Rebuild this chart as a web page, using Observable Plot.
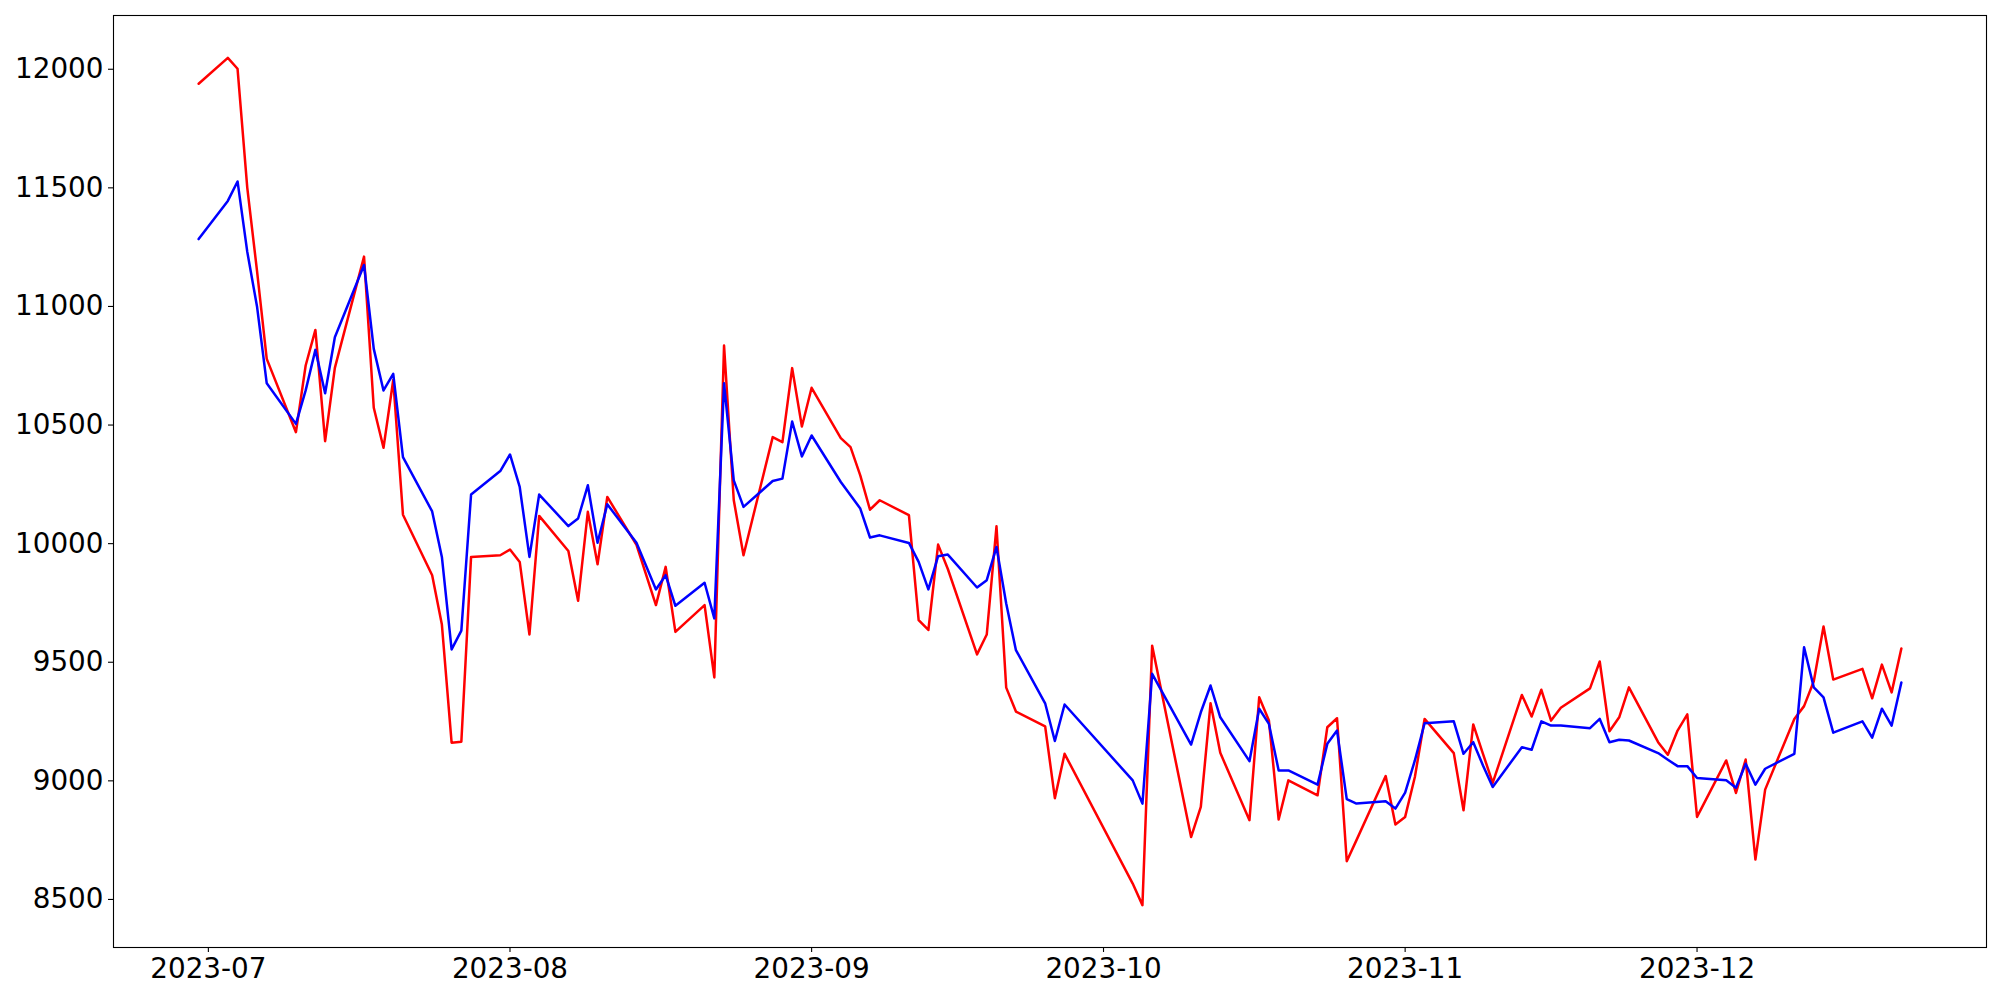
<!DOCTYPE html>
<html>
<head>
<meta charset="utf-8">
<script src="https://cdn.jsdelivr.net/npm/d3@7"></script>
<script src="https://cdn.jsdelivr.net/npm/@observablehq/plot@0.6"></script>
<style>
  html, body { margin: 0; padding: 0; background: #ffffff; }
  #chart svg { display: block; }
</style>
</head>
<body>
<div id="chart"></div>
<script>
// Trading days (dates)
const dates = [
  "2023-06-30",
  "2023-07-03","2023-07-04","2023-07-05","2023-07-06","2023-07-07",
  "2023-07-10","2023-07-11","2023-07-12","2023-07-13","2023-07-14",
  "2023-07-17","2023-07-18","2023-07-19","2023-07-20","2023-07-21",
  "2023-07-24","2023-07-25","2023-07-26","2023-07-27","2023-07-28",
  "2023-07-31","2023-08-01","2023-08-02","2023-08-03","2023-08-04",
  "2023-08-07","2023-08-08","2023-08-09","2023-08-10","2023-08-11",
  "2023-08-14","2023-08-16","2023-08-17","2023-08-18",
  "2023-08-21","2023-08-22","2023-08-23","2023-08-24","2023-08-25",
  "2023-08-28","2023-08-29","2023-08-30","2023-08-31","2023-09-01",
  "2023-09-04","2023-09-05","2023-09-06","2023-09-07","2023-09-08",
  "2023-09-11","2023-09-12","2023-09-13","2023-09-14","2023-09-15",
  "2023-09-18","2023-09-19","2023-09-20","2023-09-21","2023-09-22",
  "2023-09-25","2023-09-26","2023-09-27",
  "2023-10-04","2023-10-05","2023-10-06",
  "2023-10-10","2023-10-11","2023-10-12","2023-10-13",
  "2023-10-16","2023-10-17","2023-10-18","2023-10-19","2023-10-20",
  "2023-10-23","2023-10-24","2023-10-25","2023-10-26","2023-10-27",
  "2023-10-30","2023-10-31","2023-11-01","2023-11-02","2023-11-03",
  "2023-11-06","2023-11-07","2023-11-08","2023-11-09","2023-11-10",
  "2023-11-13","2023-11-14","2023-11-15","2023-11-16","2023-11-17",
  "2023-11-20","2023-11-21","2023-11-22","2023-11-23","2023-11-24",
  "2023-11-27","2023-11-28","2023-11-29","2023-11-30","2023-12-01",
  "2023-12-04","2023-12-05","2023-12-06","2023-12-07","2023-12-08",
  "2023-12-11","2023-12-12","2023-12-13","2023-12-14","2023-12-15",
  "2023-12-18","2023-12-19","2023-12-20","2023-12-21","2023-12-22"
];

// Red series
const redValues = [
  11939,
  12048,12002,11500,11150,10779,
  10470,10751,10901,10432,10741,
  11210,10573,10404,10690,10122,
  9867,9659,9161,9165,9944,
  9951,9975,9923,9617,10117,
  9969,9759,10134,9913,10197,
  9995,9741,9902,9628,
  9741,9436,10835,10183,9951,
  10449,10428,10740,10494,10657,
  10445,10407,10288,10143,10183,
  10120,9678,9636,9996,9893,
  9533,9617,10073,9393,9292,
  9230,8927,9114,
  8567,8476,9570,
  8763,8890,9327,9118,
  8834,9352,9254,8837,9002,
  8939,9226,9264,8661,8750,
  9020,8816,8848,9016,9261,
  9117,8876,9238,9114,8991,
  9362,9271,9384,9254,9308,
  9390,9503,9209,9268,9394,
  9163,9110,9212,9280,8848,
  9086,8949,9090,8668,8963,
  9261,9315,9420,9651,9427,
  9472,9348,9490,9373,9558
];

// Blue series
const blueValues = [
  11284,
  11445,11527,11230,11000,10676,
  10505,10646,10817,10634,10870,
  11175,10821,10646,10716,10365,
  10136,9944,9554,9633,10207,
  10306,10376,10239,9944,10207,
  10074,10106,10246,10004,10166,
  10004,9807,9867,9738,
  9835,9685,10676,10267,10155,
  10264,10274,10515,10368,10456,
  10260,10204,10148,10026,10035,
  10003,9923,9807,9947,9954,
  9815,9846,9986,9748,9551,
  9327,9168,9322,
  9002,8904,9451,
  9153,9289,9402,9268,
  9083,9304,9240,9044,9044,
  8984,9156,9212,8923,8904,
  8914,8883,8950,9086,9243,
  9251,9114,9163,9065,8974,
  9142,9131,9251,9233,9233,
  9222,9261,9163,9173,9170,
  9117,9089,9062,9062,9012,
  9002,8971,9072,8984,9051,
  9114,9563,9394,9352,9203,
  9251,9182,9304,9233,9415
];

// Tick labels
const xTickLabels = ["2023-07","2023-08","2023-09","2023-10","2023-11","2023-12"];
const yTickValues = [8500, 9000, 9500, 10000, 10500, 11000, 11500, 12000];

const parseDay = d3.utcParse("%Y-%m-%d");
const parseMonth = d3.utcParse("%Y-%m");
const dayDates = dates.map(parseDay);

const redData = dayDates.map((d, i) => ({date: d, value: redValues[i]}));
const blueData = dayDates.map((d, i) => ({date: d, value: blueValues[i]}));

// matplotlib-like 5% margins
const t0 = +d3.min(dayDates), t1 = +d3.max(dayDates);
const tPad = (t1 - t0) * 0.05;
const allVals = redValues.concat(blueValues);
const v0 = d3.min(allVals), v1 = d3.max(allVals);
const vPad = (v1 - v0) * 0.05;

const fontSize = 27.8;

const chart = Plot.plot({
  width: 2000,
  height: 1000,
  marginLeft: 113,
  marginRight: 14,
  marginTop: 15,
  marginBottom: 53,
  style: {
    fontFamily: "'DejaVu Sans', sans-serif",
    fontSize: fontSize + "px",
    color: "#000000",
    background: "#ffffff"
  },
  x: {type: "utc", domain: [new Date(t0 - tPad), new Date(t1 + tPad)]},
  y: {domain: [v0 - vPad, v1 + vPad]},
  marks: [
    Plot.line(redData, {x: "date", y: "value", stroke: "#ff0000", strokeWidth: 2.5}),
    Plot.line(blueData, {x: "date", y: "value", stroke: "#0000ff", strokeWidth: 2.5}),
    Plot.frame({stroke: "#000000", strokeWidth: 1.1}),
    Plot.axisX({
      ticks: xTickLabels.map(parseMonth),
      tickFormat: d3.utcFormat("%Y-%m"),
      tickSize: 5,
      tickPadding: 6,
      strokeWidth: 1.1,
      fontSize: fontSize,
      label: null
    }),
    Plot.axisY({
      ticks: yTickValues,
      tickFormat: d => String(d),
      tickSize: 5,
      tickPadding: 5,
      strokeWidth: 1.1,
      fontSize: fontSize,
      label: null
    })
  ]
});

document.getElementById("chart").appendChild(chart);
</script>
</body>
</html>
